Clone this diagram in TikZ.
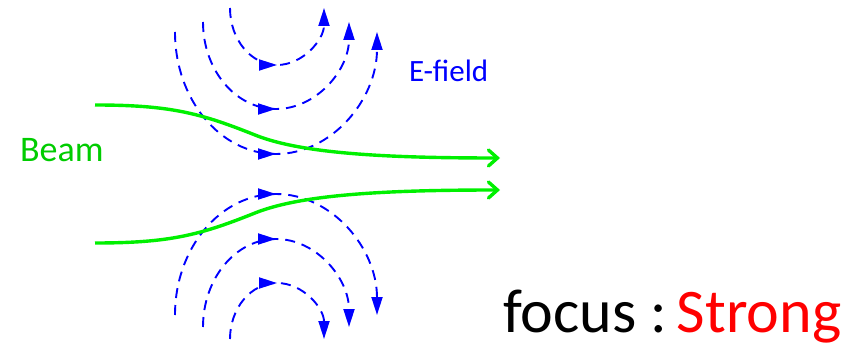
\documentclass[tikz,border=0pt]{standalone}
\usepackage{fontspec}
\setmainfont{Carlito}
\usetikzlibrary{arrows.meta,decorations.markings}

\definecolor{fieldBlue}{RGB}{0,0,255}
\definecolor{beamGreen}{RGB}{0,240,0}
\definecolor{beamInk}{RGB}{0,204,0}
\definecolor{focusInk}{RGB}{0,0,0}
\definecolor{focusRed}{RGB}{255,0,0}

\tikzset{
  fieldLine/.style={draw=fieldBlue,line width=1.9pt,dash pattern=on 10pt off 7pt,
    -{Triangle[length=18pt,width=11pt]},
    postaction={decorate},
    decoration={markings,mark=at position 0.5 with {\arrow[fieldBlue]{Triangle[length=18pt,width=11pt]}}}},
  beamLine/.style={draw=beamGreen,line width=3.4pt,-{Straight Barb[length=9pt,width=16pt,line cap=round]}},
}

\begin{document}
\begin{tikzpicture}[x=1pt,y=1pt,inner sep=0pt,outer sep=0pt]
\useasboundingbox (0,0) rectangle (861,348);
% field lines above the beam
\draw[fieldLine] (230.000,340.000) arc[start angle=180,end angle=360,x radius=47,y radius=57];
\draw[fieldLine] (203.000,326.000) arc[start angle=180,end angle=360,x radius=73,y radius=87];
\draw[fieldLine] (175.000,316.000) arc[start angle=180,end angle=360,x radius=101,y radius=122];
% field lines below the beam
\draw[fieldLine] (175.000,33.000) arc[start angle=180,end angle=0,x radius=101,y radius=121];
\draw[fieldLine] (203.000,21.000) arc[start angle=180,end angle=0,x radius=73,y radius=88];
\draw[fieldLine] (230.000,9.000) arc[start angle=180,end angle=0,x radius=47,y radius=56];
% beam edges
\coordinate (topIn) at (95.000,243.000);
\coordinate (topOut) at (500.000,190.000);
\coordinate (botIn) at (95.000,105.000);
\coordinate (botOut) at (500.000,158.000);
\draw[beamLine] (topIn) .. controls (170,243) and (200,235) .. (255,213) .. controls (300,195) and (380,190) .. (topOut);
\draw[beamLine] (botIn) .. controls (170,105) and (200,113) .. (255,135) .. controls (300,153) and (380,158) .. (botOut);
% labels
\node[anchor=base west,text=beamInk,font=\fontsize{36}{40}\selectfont] (beamLbl) at (20.000,186.000) {Beam};
\node[anchor=base west,text=fieldBlue,font=\fontsize{31}{34}\selectfont] (fieldLbl) at (409.000,266.000) {E-field};
\node[anchor=base west,text=focusInk,font=\fontsize{62}{64}\selectfont] (focusLbl) at (503.000,16.000) {focus\hspace{14pt}:\hspace{10pt}\textcolor{focusRed}{Strong}};
\end{tikzpicture}
\end{document}
